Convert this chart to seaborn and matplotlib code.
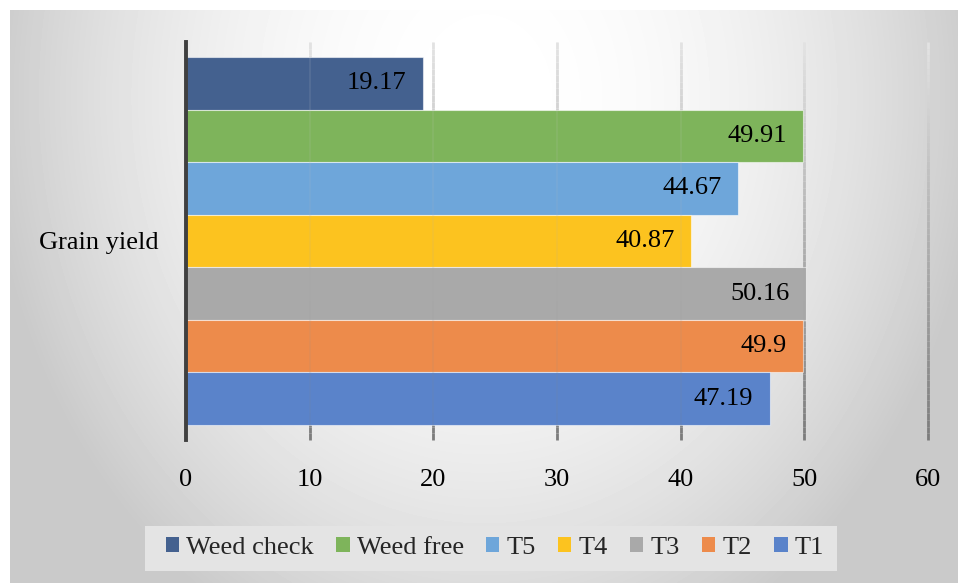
import numpy as np
import pandas as pd
import matplotlib
matplotlib.use('Agg')
import matplotlib.pyplot as plt
from matplotlib.collections import LineCollection
from matplotlib.colors import to_rgb
from matplotlib.patches import Patch, Rectangle
import seaborn as sns

# grain yield by treatment
group = ['Grain yield']
treatments = ['Weed check', 'Weed free', 'T5', 'T4', 'T3', 'T2', 'T1']
yields = [19.17, 49.91, 44.67, 40.87, 50.16, 49.9, 47.19]
value_labels = ['19.17', '49.91', '44.67', '40.87', '50.16', '49.9', '47.19']
colors = ['#44618f', '#7eb45b', '#6ea6da', '#fcc31f', '#a9a9a9', '#ed8b4b', '#5a83ca']
x_ticks = [0, 10, 20, 30, 40, 50, 60]

df = pd.DataFrame({'group': group * len(treatments),
                   'treatment': treatments,
                   'yield': yields})

sns.set_theme(style='white')
plt.rcParams['font.family'] = ['Liberation Serif', 'DejaVu Serif']
FS = 19

W, H = 958, 583
fig = plt.figure(figsize=(W / 100, H / 100), dpi=100)

# panel background with a soft radial gradient
bw, bh = 948, 573
bg = fig.add_axes([10 / W, 0, bw / W, bh / H], zorder=-10)
yy, xx = np.mgrid[0:bh, 0:bw]
dx = (xx - 0.5 * bw) / (0.55 * bw)
dy = (yy - 0.15 * bh) / (1.1 * bh)
shade = np.clip(1 - 0.23 * (dx ** 2 + dy ** 2), 0.79, 1.0)
bg.imshow(shade, cmap='gray', vmin=0, vmax=1, aspect='auto', interpolation='bilinear')
bg.set_axis_off()

ax = fig.add_axes([186 / W, 1 - 440 / H, 742 / W, 398 / H])
ax.patch.set_alpha(0)

sns.barplot(data=df, x='yield', y='group', hue='treatment', hue_order=treatments,
            palette=colors, orient='h', width=0.925, saturation=1, legend=False,
            edgecolor=(1, 1, 1, 0.55), linewidth=0.8, ax=ax, zorder=2)

# vertical gridlines fading from dark at the bottom to light at the top
n = 60
ys = np.linspace(0, 1, n + 1)
dark, light = np.array(to_rgb('#7c7c7c')), np.array(to_rgb('#e4e4e4'))
for xv in x_ticks[1:]:
    segs = [[(xv, ys[i]), (xv, ys[i + 1])] for i in range(n)]
    cols = [dark + (light - dark) * (i / n) for i in range(n)]
    ax.add_collection(LineCollection(segs, colors=cols, linewidths=2.0, clip_on=False,
                                     transform=ax.get_xaxis_transform(), zorder=1))
    ax.add_collection(LineCollection(segs, colors=cols, linewidths=1.2, alpha=0.12,
                                     clip_on=False,
                                     transform=ax.get_xaxis_transform(), zorder=3))

# value labels inside the bar ends
for cont, lbl in zip(ax.containers, value_labels):
    bar = cont.patches[0]
    ax.annotate(lbl, xy=(bar.get_x() + bar.get_width(), bar.get_y() + bar.get_height() / 2),
                xytext=(-12, 0), textcoords='offset points', ha='right', va='center',
                fontsize=FS, color='black', zorder=4)

ax.set_xlim(0, 60)
ax.set_xticks(x_ticks)
ax.set_xticklabels([str(t) for t in x_ticks])
ax.set_xlabel('')
ax.set_ylabel('')
for s in ['top', 'right', 'bottom']:
    ax.spines[s].set_visible(False)
ax.spines['left'].set_color('#404040')
ax.spines['left'].set_linewidth(2.8)
ax.spines['left'].set_zorder(5)
ax.tick_params(axis='x', length=0, pad=21, labelsize=FS, colors='black')
ax.tick_params(axis='y', length=0, pad=20, labelsize=FS, colors='black')

# legend strip below the plot
fig.patches.append(Rectangle((145 / W, 1 - 571 / H), (837 - 145) / W, 45 / H,
                             transform=fig.transFigure, facecolor='#e4e4e4',
                             edgecolor='none', zorder=-5))
handles = [Patch(facecolor=c, edgecolor='none') for c in colors]
fig.legend(handles, treatments, loc='center', bbox_to_anchor=(495 / W, 1 - 548 / H),
           ncol=7, frameon=False, fontsize=FS, handlelength=0.5, handleheight=0.5,
           handletextpad=0.27, columnspacing=0.85, borderpad=0.2)

fig.savefig('out.png', dpi=100)
